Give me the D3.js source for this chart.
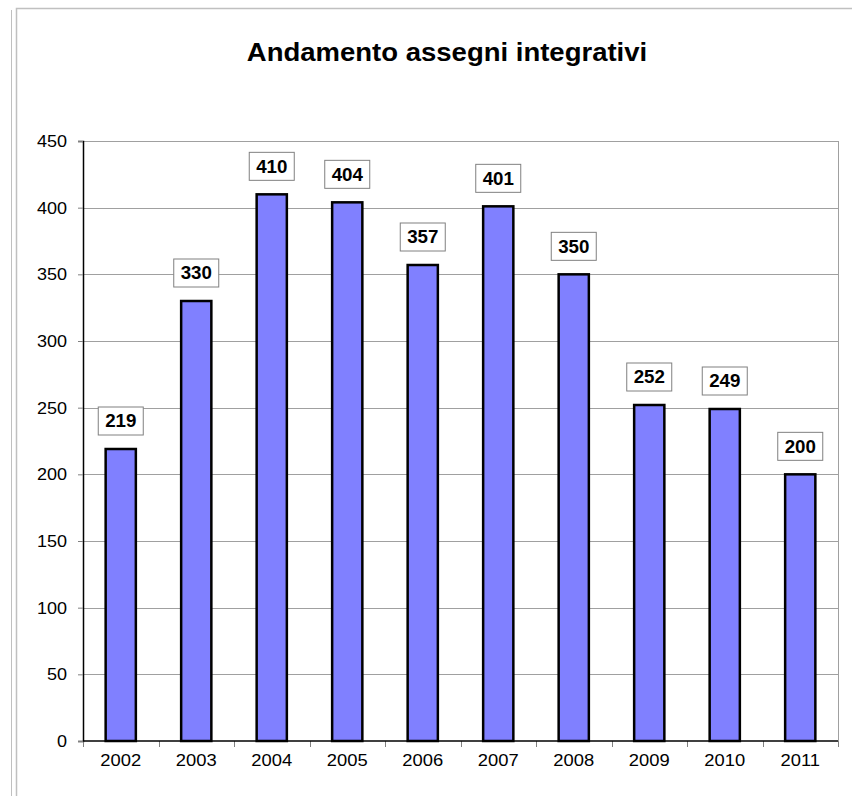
<!DOCTYPE html>
<html>
<head>
<meta charset="utf-8">
<script src="https://cdn.jsdelivr.net/npm/d3@7"></script>
<style>
  body { margin: 0; background: #fff; }
  svg { display: block; font-family: "Liberation Sans", Arial, sans-serif; }
</style>
</head>
<body>
<div id="chart"></div>
<script>
const years = ['2002', '2003', '2004', '2005', '2006', '2007', '2008', '2009', '2010', '2011'];
const values = [219, 330, 410, 404, 357, 401, 350, 252, 249, 200];
const yTicks = [0, 50, 100, 150, 200, 250, 300, 350, 400, 450];
const title = 'Andamento assegni integrativi';

const W = 852, H = 796;
const margin = { top: 141, right: 14, bottom: 55, left: 83 };
const width = W - margin.left - margin.right;
const height = H - margin.top - margin.bottom;

// the original's text is a bit wider than its height suggests
function stretch(sel, k) {
  sel.each(function () {
    const w = this.getComputedTextLength();
    d3.select(this).attr('textLength', w * k).attr('lengthAdjust', 'spacingAndGlyphs');
  });
}

const svg = d3.select('#chart').append('svg')
  .attr('width', W)
  .attr('height', H);

// outer frame lines
svg.append('line').attr('x1', 11.5).attr('x2', 11.5).attr('y1', 10).attr('y2', H)
  .attr('stroke', '#c0c0c0');
svg.append('path').attr('d', `M16.5,${H} V8.5 H${W}`)
  .attr('fill', 'none').attr('stroke', '#c0c0c0').attr('stroke-width', 1.5);

svg.append('text')
  .attr('x', 447)
  .attr('y', 61)
  .attr('text-anchor', 'middle')
  .style('font-size', '25px')
  .style('font-weight', 'bold')
  .text(title)
  .call(stretch, 1.1);

const g = svg.append('g').attr('transform', `translate(${margin.left},${margin.top})`);

const x = d3.scaleBand().domain(years).range([0, width]).paddingInner(0.6).paddingOuter(0.3);
const xCat = d3.scaleBand().domain(years).range([0, width]);
const y = d3.scaleLinear().domain([0, 450]).range([height, 0]);

// gridlines
g.append('g')
  .selectAll('line')
  .data(yTicks.filter(d => d > 0))
  .enter().append('line')
  .attr('x1', 0).attr('x2', width)
  .attr('y1', d => Math.round(y(d)) + 0.5).attr('y2', d => Math.round(y(d)) + 0.5)
  .attr('stroke', '#a0a0a0');

// right plot border
g.append('line')
  .attr('x1', width + 0.5).attr('x2', width + 0.5)
  .attr('y1', 0).attr('y2', height)
  .attr('stroke', '#a0a0a0');

// y axis
const yAxis = g.append('g')
  .call(d3.axisLeft(y).tickValues(yTicks).tickSize(5).tickPadding(11));
yAxis.select('.domain').attr('stroke', '#000').attr('stroke-width', 1.5);
yAxis.selectAll('.tick line').attr('stroke', '#808080');
yAxis.selectAll('text').style('font-size', '17px').attr('fill', '#000').call(stretch, 1.06);

// x axis ticks at category boundaries
const xAxis = g.append('g').attr('transform', `translate(0,${height})`)
  .call(d3.axisBottom(xCat).tickSize(0).tickPadding(13));
xAxis.select('.domain').remove();
xAxis.selectAll('text').style('font-size', '17px').attr('fill', '#000').call(stretch, 1.08);
g.append('g').attr('transform', `translate(0,${height})`)
  .selectAll('line')
  .data(years.concat(['end']))
  .enter().append('line')
  .attr('x1', (d, i) => Math.round(i * xCat.step()) + 0.5)
  .attr('x2', (d, i) => Math.round(i * xCat.step()) + 0.5)
  .attr('y1', 0).attr('y2', 6)
  .attr('stroke', '#808080');

// bars
g.selectAll('.bar')
  .data(values)
  .enter().append('rect')
  .attr('class', 'bar')
  .attr('x', (d, i) => x(years[i]))
  .attr('y', d => y(d))
  .attr('width', x.bandwidth())
  .attr('height', d => height - y(d))
  .attr('fill', '#8080ff')
  .attr('stroke', '#000')
  .attr('stroke-width', 2.5);

g.append('line')
  .attr('x1', 0).attr('x2', width)
  .attr('y1', height).attr('y2', height)
  .attr('stroke', '#000').attr('stroke-width', 1.5);

// value labels
const labels = g.selectAll('.lbl')
  .data(values)
  .enter().append('g')
  .attr('class', 'lbl')
  .attr('transform', (d, i) => `translate(${x(years[i]) + x.bandwidth() / 2},${y(d) - 28})`);
labels.append('rect')
  .attr('x', -22.5).attr('y', -14)
  .attr('width', 45).attr('height', 28)
  .attr('fill', '#fff')
  .attr('stroke', '#808080');
labels.append('text')
  .attr('text-anchor', 'middle')
  .attr('dy', '0.36em')
  .style('font-size', '18px')
  .style('font-weight', 'bold')
  .text(d => d)
  .call(stretch, 1.04);
</script>
</body>
</html>
